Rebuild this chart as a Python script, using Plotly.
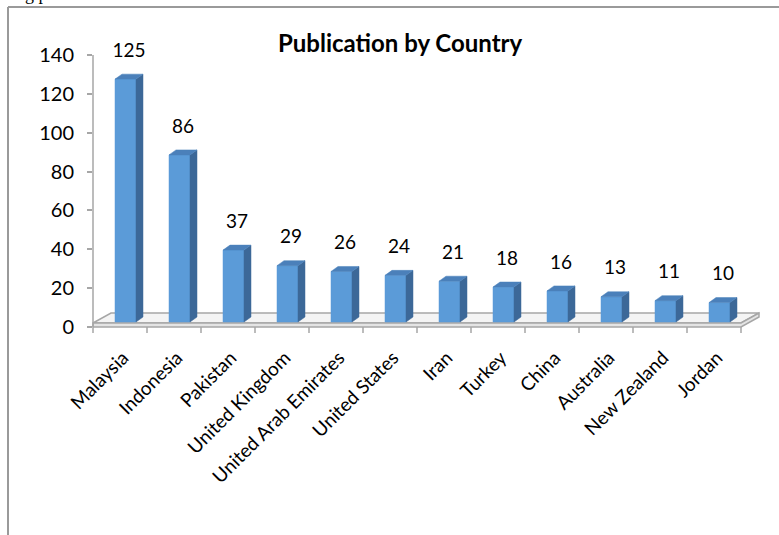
import plotly.graph_objects as go

countries = ["Malaysia", "Indonesia", "Pakistan", "United Kingdom", "United Arab Emirates",
             "United States", "Iran", "Turkey", "China", "Australia", "New Zealand", "Jordan"]
publications = [125, 86, 37, 29, 26, 24, 21, 18, 16, 13, 11, 10]
y_ticks = [0, 20, 40, 60, 80, 100, 120, 140]
title_text = "Publication by Country"

W, H = 779, 535
PX_X = 54.0      # pixels per category
PX_Y = 1.943     # pixels per unit value
X0 = 122.0       # pixel of first category centre
Y0 = 327.0       # pixel of value 0 (front edge)

FONT = "Lato, Carlito, Calibri, sans-serif"
FRONT = "#5B9BD8"
SIDE = "#3C6898"
TOP = "#4B80BA"
GRID = "#A6A6A6"

n = len(countries)
base = 5 / PX_Y          # bars stand slightly behind the front edge
ddx = 7 / PX_X           # depth offset of bar
ddy = 5 / PX_Y
half_w = 0.5 * 21 / PX_X
shift = 3.5 / PX_X

fig = go.Figure()

# floor slab (depth from the category range)
fl, fr = -0.5 - 2 / PX_X, n - 0.5 - 2 / PX_X
fdx, fdy = 18 / PX_X, 10 / PX_Y
ftop = 4 / PX_Y
fig.add_trace(go.Scatter(x=[fl, fr, fr + fdx, fl + fdx, fl], y=[ftop, ftop, ftop + fdy, ftop + fdy, ftop],
                         fill="toself", fillcolor="#F4F4F4", mode="lines",
                         line=dict(color=GRID, width=1.5), hoverinfo="skip"))
fig.add_trace(go.Scatter(x=[fl, fr, fr + fdx, fr + fdx, fr, fl, fl], y=[0, 0, fdy, ftop + fdy, ftop, ftop, 0],
                         fill="toself", fillcolor="#E4E4E4", mode="lines",
                         line=dict(color=GRID, width=1.5), hoverinfo="skip"))

# value axis line
fig.add_trace(go.Scatter(x=[fl, fl], y=[0, y_ticks[-1]], mode="lines",
                         line=dict(color=GRID, width=1.5), hoverinfo="skip"))

# category tick marks at boundaries
tx, ty = [], []
for k in range(n + 1):
    xb = k - 0.5 - 2 / PX_X
    tx += [xb, xb, None]
    ty += [0, -6 / PX_Y, None]
fig.add_trace(go.Scatter(x=tx, y=ty, mode="lines", line=dict(color=GRID, width=1.5), hoverinfo="skip"))

# bars (front, side, top)
for k, v in enumerate(publications):
    xl = k + shift - half_w
    xr = k + shift + half_w
    b, t = base, base + v
    fig.add_trace(go.Scatter(x=[xl, xr, xr, xl, xl], y=[b, b, t, t, b], fill="toself",
                             fillcolor=FRONT, mode="lines", line=dict(color=FRONT, width=0.5),
                             hoverinfo="skip"))
    fig.add_trace(go.Scatter(x=[xr, xr + ddx, xr + ddx, xr, xr], y=[b, b + ddy, t + ddy, t, b],
                             fill="toself", fillcolor=SIDE, mode="lines",
                             line=dict(color=SIDE, width=0.5), hoverinfo="skip"))
    fig.add_trace(go.Scatter(x=[xl, xr, xr + ddx, xl + ddx, xl], y=[t, t, t + ddy, t + ddy, t],
                             fill="toself", fillcolor=TOP, mode="lines",
                             line=dict(color=TOP, width=0.5), hoverinfo="skip"))

# data labels
fig.add_trace(go.Scatter(x=[k + shift + ddx / 2 for k in range(n)],
                         y=[base + v + 27 / PX_Y for v in publications],
                         mode="text", text=[str(v) for v in publications],
                         textposition="middle center",
                         textfont=dict(family=FONT, size=19, color="#000000"),
                         hoverinfo="skip"))

fig.update_layout(
    width=W, height=H,
    margin=dict(l=0, r=0, t=0, b=0),
    paper_bgcolor="white", plot_bgcolor="white",
    showlegend=False,
    xaxis=dict(range=[-X0 / PX_X, (W - X0) / PX_X], domain=[0, 1],
               anchor="free", position=(H - Y0) / H,
               tickmode="array", tickvals=[k + 0.02 for k in range(n)], ticktext=countries,
               tickangle=-45, ticks="", showline=False, showgrid=False, zeroline=False,
               ticklabelstandoff=15,
               tickfont=dict(family=FONT, size=19, color="#000000")),
    yaxis=dict(range=[(Y0 - H) / PX_Y, Y0 / PX_Y], domain=[0, 1],
               anchor="free", position=92 / W,
               tickmode="array", tickvals=y_ticks, ticks="outside", ticklen=5,
               tickcolor=GRID, tickwidth=1.5, showline=False, showgrid=False, zeroline=False,
               ticklabelstandoff=9,
               tickfont=dict(family=FONT, size=20, color="#000000")),
    annotations=[
        dict(text="<b>" + title_text + "</b>", xref="paper", yref="paper",
             x=400 / W, y=1 - 42 / H, xanchor="center", yanchor="middle", showarrow=False,
             font=dict(family=FONT, size=24, color="#000000")),
        dict(text="wing picture.", xref="paper", yref="paper",
             x=-4 / W, y=1 - 6 / H, xanchor="left", yanchor="bottom", showarrow=False,
             font=dict(family="Liberation Serif, serif", size=18, color="#000000")),
    ],
    shapes=[
        dict(type="line", xref="paper", yref="paper", x0=8 / W, x1=1, y0=1 - 7 / H, y1=1 - 7 / H,
             line=dict(color="#9A9A9A", width=2)),
        dict(type="line", xref="paper", yref="paper", x0=8 / W, x1=8 / W, y0=0, y1=1 - 7 / H,
             line=dict(color="#9A9A9A", width=2)),
    ],
)

fig.write_html("out.html", config={"displayModeBar": False},
               post_script="document.body.style.margin='0';document.body.style.overflow='hidden';")
